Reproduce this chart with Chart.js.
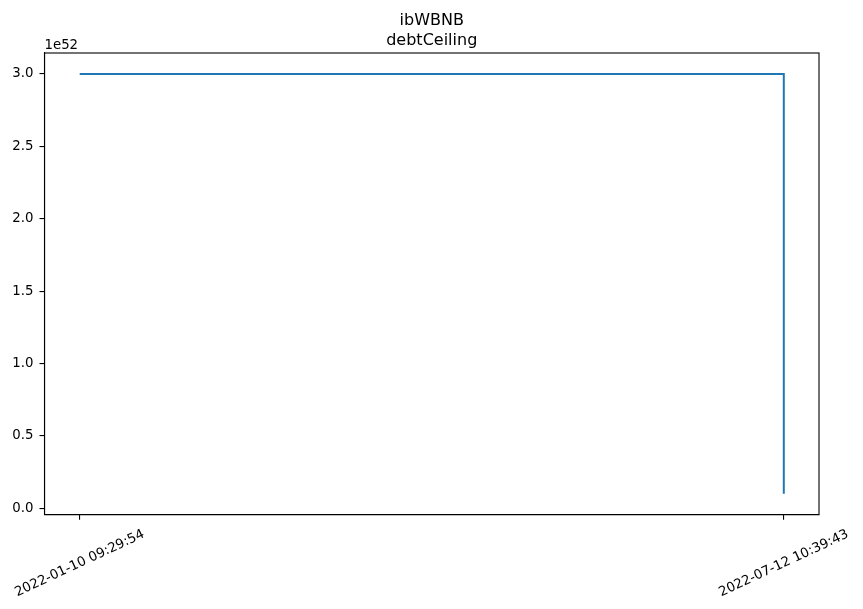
<!DOCTYPE html>
<html>
<head>
<meta charset="utf-8">
<script src="https://cdn.jsdelivr.net/npm/chart.js@4"></script>
<style>
html,body{margin:0;padding:0;background:#fff;}
#wrap{width:863px;height:609px;}
</style>
</head>
<body>
<div id="wrap"><canvas id="c" width="863" height="609"></canvas></div>
<script>
// ---- data ----
const categories = ['2022-01-10 09:29:54', '2022-07-12 10:39:43'];
const pointDates = ['2022-01-10 09:29:54', '2022-07-12 10:39:43', '2022-07-12 10:39:43'];
const debtCeiling = [3e52, 3e52, 1e51];
const yTicks = [0, 0.5, 1.0, 1.5, 2.0, 2.5, 3.0];
const yExponent = 52;
const titleLines = ['ibWBNB', 'debtCeiling'];

const FONT = "'DejaVu Sans', sans-serif";
const TICK_PX = 13.3;
const TITLE_PX = 16;
const scaleFactor = Math.pow(10, yExponent);

const points = pointDates.map((d, i) => ({ x: categories.indexOf(d), y: debtCeiling[i] }));

const framePlugin = {
  id: 'frame',
  afterDraw(chart) {
    const ctx = chart.ctx;
    const a = chart.chartArea;
    ctx.save();
    ctx.strokeStyle = '#000';
    ctx.lineWidth = 1.1;
    ctx.strokeRect(a.left, a.top, a.right - a.left, a.bottom - a.top);
    ctx.fillStyle = '#000';
    // title, centered over the axes
    ctx.font = TITLE_PX + 'px ' + FONT;
    ctx.textAlign = 'center';
    ctx.textBaseline = 'alphabetic';
    const cx = (a.left + a.right) / 2;
    titleLines.forEach((t, i) => {
      ctx.fillText(t, cx, a.top - 28 + i * 19.5);
    });
    // offset text
    ctx.font = TICK_PX + 'px ' + FONT;
    ctx.textAlign = 'left';
    ctx.fillText('1e' + yExponent, a.left, a.top - 4.5);
    // rotated x tick labels (centered under tick, matplotlib style)
    const xs = chart.scales.x;
    const rot = 25 * Math.PI / 180;
    categories.forEach((lab, i) => {
      const px = xs.getPixelForValue(i);
      const w = ctx.measureText(lab).width;
      const h = TICK_PX * 1.15;
      const H = w * Math.sin(rot) + h * Math.cos(rot);
      const top = a.bottom + 12;
      ctx.save();
      ctx.translate(px, top + H / 2);
      ctx.rotate(-rot);
      ctx.textAlign = 'center';
      ctx.textBaseline = 'middle';
      ctx.fillText(lab, 0, 0);
      ctx.restore();
    });
    ctx.restore();
  }
};

new Chart(document.getElementById('c'), {
  type: 'line',
  data: {
    datasets: [{
      data: points,
      borderColor: '#1f77b4',
      borderWidth: 2,
      pointRadius: 0,
      tension: 0,
      fill: false
    }]
  },
  options: {
    responsive: false,
    animation: false,
    devicePixelRatio: 1,
    layout: { padding: { left: 0, right: 44, top: 53, bottom: 0 } },
    plugins: {
      legend: { display: false },
      tooltip: { enabled: false },
      title: { display: false }
    },
    scales: {
      x: {
        type: 'linear',
        min: -0.05,
        max: 1.05,
        afterBuildTicks: s => { s.ticks = categories.map((c, i) => ({ value: i })); },
        afterFit: s => { s.height = 94.3; },
        ticks: { display: false },
        grid: { display: true, drawOnChartArea: false, drawTicks: true, tickLength: 5, color: '#000', lineWidth: 1.1 },
        border: { display: true, color: '#000', width: 1.1 }
      },
      y: {
        type: 'linear',
        min: -0.045 * scaleFactor,
        max: 3.145 * scaleFactor,
        afterBuildTicks: s => { s.ticks = yTicks.map(v => ({ value: v * scaleFactor })); },
        afterFit: s => { s.width = 44.5; },
        ticks: {
          color: '#000',
          padding: 6,
          font: { family: FONT, size: TICK_PX },
          callback: v => (v / scaleFactor).toFixed(1)
        },
        grid: { display: true, drawOnChartArea: false, drawTicks: true, tickLength: 5, color: '#000', lineWidth: 1.1 },
        border: { display: true, color: '#000', width: 1.1 }
      }
    }
  },
  plugins: [framePlugin]
});
</script>
</body>
</html>
